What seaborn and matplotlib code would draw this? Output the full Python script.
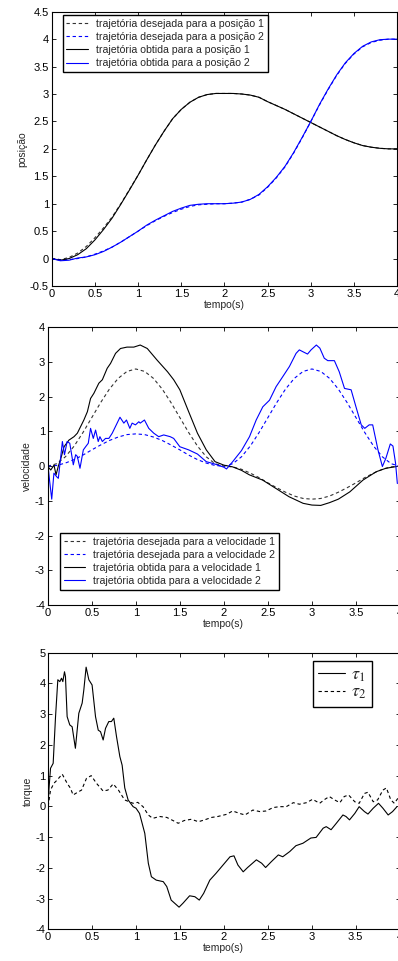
import matplotlib
matplotlib.use("Agg")
import matplotlib.pyplot as plt
import seaborn as sns
from matplotlib.ticker import FuncFormatter, MultipleLocator

# tempo para as posicoes e velocidades desejadas (passo de 0.1 s)
t_grid = [0.0, 0.1, 0.2, 0.3, 0.4, 0.5, 0.6, 0.7, 0.8, 0.9, 1.0,
          1.1, 1.2, 1.3, 1.4, 1.5, 1.6, 1.7, 1.8, 1.9, 2.0,
          2.1, 2.2, 2.3, 2.4, 2.5, 2.6, 2.7, 2.8, 2.9, 3.0,
          3.1, 3.2, 3.3, 3.4, 3.5, 3.6, 3.7, 3.8, 3.9, 4.0]

# posicoes
pos1_des = [0.0, -0.02, 0.02, 0.10, 0.22, 0.38, 0.56, 0.76, 1.00, 1.26, 1.52,
            1.80, 2.07, 2.32, 2.55, 2.72, 2.85, 2.94, 2.99, 3.01, 3.01,
            3.01, 3.00, 2.98, 2.94, 2.86, 2.79, 2.72, 2.64, 2.56, 2.48,
            2.40, 2.32, 2.24, 2.17, 2.11, 2.06, 2.03, 2.01, 2.00, 2.00]
pos1_obt = [0.0, -0.03, 0.00, 0.07, 0.18, 0.34, 0.53, 0.74, 0.99, 1.25, 1.52,
            1.80, 2.07, 2.32, 2.55, 2.72, 2.85, 2.94, 2.99, 3.01, 3.01,
            3.01, 3.00, 2.98, 2.94, 2.86, 2.79, 2.72, 2.64, 2.56, 2.48,
            2.40, 2.32, 2.24, 2.17, 2.11, 2.06, 2.03, 2.01, 2.00, 2.00]
pos2_des = [0.0, -0.02, -0.02, 0.00, 0.03, 0.08, 0.14, 0.21, 0.30, 0.40, 0.50,
            0.60, 0.69, 0.77, 0.84, 0.90, 0.95, 0.98, 0.99, 1.00, 1.00,
            1.01, 1.03, 1.08, 1.16, 1.30, 1.47, 1.67, 1.92, 2.20, 2.50,
            2.80, 3.08, 3.34, 3.56, 3.73, 3.86, 3.94, 3.98, 4.00, 4.00]
pos2_obt = [0.0, -0.04, -0.03, 0.01, 0.03, 0.07, 0.13, 0.21, 0.30, 0.40, 0.50,
            0.61, 0.70, 0.78, 0.86, 0.92, 0.97, 0.99, 1.00, 1.00, 1.00,
            1.01, 1.03, 1.08, 1.17, 1.31, 1.48, 1.68, 1.93, 2.21, 2.50,
            2.81, 3.09, 3.35, 3.57, 3.74, 3.87, 3.95, 3.99, 4.00, 4.00]

# velocidades desejadas
vel1_des = [0.0, 0.07, 0.27, 0.58, 0.97, 1.40, 1.83, 2.22, 2.53, 2.73, 2.80,
            2.73, 2.53, 2.22, 1.83, 1.40, 0.97, 0.58, 0.27, 0.07, 0.0,
            -0.02, -0.09, -0.20, -0.33, -0.48, -0.62, -0.75, -0.86, -0.93, -0.95,
            -0.93, -0.86, -0.75, -0.62, -0.48, -0.33, -0.20, -0.09, -0.02, 0.0]
vel2_des = [0.0, 0.02, 0.09, 0.19, 0.32, 0.47, 0.61, 0.74, 0.84, 0.91, 0.93,
            0.91, 0.84, 0.74, 0.61, 0.47, 0.32, 0.19, 0.09, 0.02, 0.0,
            0.07, 0.27, 0.58, 0.97, 1.40, 1.83, 2.22, 2.53, 2.73, 2.80,
            2.73, 2.53, 2.22, 1.83, 1.40, 0.97, 0.58, 0.27, 0.07, 0.0]

# velocidades obtidas
t_vel1 = [0.0, 0.034, 0.071, 0.094, 0.12, 0.147, 0.185, 0.24, 0.298, 0.336, 0.373,
          0.41, 0.45, 0.486, 0.524, 0.58, 0.62, 0.675, 0.713, 0.77, 0.826, 0.90,
          0.977, 1.05, 1.13, 1.24, 1.36, 1.43, 1.5, 1.6, 1.7, 1.8, 1.9, 2.0,
          2.1, 2.2, 2.29, 2.44, 2.59, 2.74, 2.9, 3.0, 3.1, 3.2, 3.3, 3.43,
          3.58, 3.73, 3.84, 3.96]
vel1_obt = [-0.01, -0.11, 0.03, -0.25, 0.0, 0.21, 0.56, 0.75, 0.85, 0.95, 1.14,
            1.33, 1.57, 1.95, 2.10, 2.39, 2.49, 2.82, 2.96, 3.25, 3.39, 3.43,
            3.43, 3.49, 3.39, 3.06, 2.72, 2.49, 2.2, 1.57, 0.95, 0.47, 0.13, 0.03,
            -0.02, -0.12, -0.25, -0.40, -0.64, -0.88, -1.07, -1.12, -1.13, -1.05, -0.95, -0.74,
            -0.40, -0.16, -0.06, -0.01]
t_vel2 = [0.0, 0.02, 0.045, 0.07, 0.1, 0.12, 0.14, 0.166, 0.19, 0.22, 0.25,
          0.29, 0.317, 0.336, 0.366, 0.404, 0.43, 0.46, 0.486, 0.517, 0.543,
          0.573, 0.592, 0.62, 0.656, 0.694, 0.732, 0.78, 0.82, 0.864, 0.894,
          0.932, 0.958, 0.996, 1.034, 1.05, 1.098, 1.147, 1.204, 1.26, 1.317,
          1.39, 1.43, 1.5, 1.6, 1.7, 1.8, 1.9, 2.0, 2.03, 2.1, 2.2,
          2.291, 2.367, 2.442, 2.518, 2.593, 2.669, 2.744, 2.82, 2.857, 2.895,
          2.95, 2.99, 3.05, 3.09, 3.14, 3.18, 3.255, 3.31, 3.37, 3.445, 3.50,
          3.56, 3.60, 3.65, 3.69, 3.75, 3.80, 3.84, 3.89, 3.92, 3.95, 3.97]
vel2_obt = [0.08, -0.4, -0.95, -0.2, -0.3, -0.35, 0.1, 0.71, 0.33, 0.71, 0.66,
            0.04, 0.33, 0.28, -0.06, 0.47, 0.56, 0.66, 1.09, 0.80, 1.04,
            0.71, 0.85, 0.71, 0.80, 0.80, 0.95, 1.2, 1.41, 1.24, 1.33,
            1.09, 1.24, 1.19, 1.28, 1.24, 1.33, 1.09, 0.95, 0.85, 0.90,
            0.85, 0.80, 0.56, 0.47, 0.35, 0.13, 0.06, -0.03, -0.08, 0.13, 0.45,
            0.85, 1.33, 1.71, 1.90, 2.29, 2.58, 2.87, 3.25, 3.35, 3.30,
            3.23, 3.35, 3.49, 3.40, 3.11, 3.04, 3.04, 2.72, 2.24, 2.20, 1.71,
            1.19, 1.09, 1.19, 1.19, 0.47, -0.01, 0.23, 0.64, 0.58, 0.08, -0.5]

# torques
t_tau1 = [0.0, 0.01, 0.027, 0.057, 0.084, 0.11, 0.133, 0.152, 0.167, 0.186, 0.197,
          0.216, 0.246, 0.273, 0.31, 0.349, 0.387, 0.406, 0.432, 0.463, 0.5,
          0.539, 0.57, 0.596, 0.626, 0.653, 0.69, 0.72, 0.747, 0.778, 0.816,
          0.842, 0.872, 0.91, 0.967, 1.0, 1.04, 1.1, 1.14, 1.175, 1.23,
          1.31, 1.35, 1.40, 1.49, 1.535, 1.61, 1.67, 1.72, 1.77, 1.84,
          1.91, 1.99, 2.07, 2.115, 2.16, 2.22, 2.27, 2.37, 2.43, 2.475,
          2.54, 2.62, 2.67, 2.75, 2.82, 2.90, 2.99, 3.05, 3.13, 3.165,
          3.22, 3.28, 3.355, 3.39, 3.43, 3.49, 3.54, 3.6, 3.64, 3.70,
          3.76, 3.81, 3.87, 3.92, 3.97]
tau1 = [0.1, 0.6, 1.24, 1.40, 2.92, 4.12, 4.06, 4.17, 4.06, 4.38, 4.22,
        2.92, 2.65, 2.59, 1.89, 3.03, 3.36, 3.79, 4.53, 4.12, 3.95,
        2.92, 2.48, 2.43, 2.16, 2.54, 2.76, 2.76, 2.87, 2.27, 1.62,
        1.34, 0.6, 0.21, -0.01, -0.06, -0.23, -0.88, -1.85, -2.29, -2.40,
        -2.45, -2.61, -3.05, -3.28, -3.15, -2.91, -2.94, -3.05, -2.83, -2.40,
        -2.18, -1.91, -1.64, -1.61, -1.91, -2.13, -1.99, -1.74, -1.85, -1.99,
        -1.80, -1.58, -1.64, -1.47, -1.28, -1.20, -1.03, -1.01, -0.71, -0.66,
        -0.76, -0.55, -0.28, -0.33, -0.44, -0.23, -0.01, -0.17, -0.25, -0.06,
        0.10, -0.06, -0.28, -0.17, -0.01]
t_tau2 = [0.0, 0.027, 0.065, 0.1, 0.16, 0.216, 0.254, 0.284, 0.33, 0.38, 0.436,
          0.49, 0.55, 0.625, 0.68, 0.74, 0.80, 0.87, 0.967, 1.02, 1.08,
          1.14, 1.19, 1.27, 1.35, 1.42, 1.48, 1.55, 1.63, 1.71, 1.78,
          1.86, 1.93, 2.03, 2.10, 2.18, 2.24, 2.33, 2.41, 2.48, 2.56,
          2.63, 2.71, 2.79, 2.86, 2.94, 3.01, 3.09, 3.15, 3.20, 3.26,
          3.32, 3.37, 3.42, 3.49, 3.54, 3.60, 3.64, 3.70, 3.75, 3.81,
          3.85, 3.90, 3.94, 3.98]
tau2 = [0.0, 0.53, 0.75, 0.85, 1.05, 0.75, 0.59, 0.37, 0.45, 0.53, 0.91,
        1.0, 0.75, 0.50, 0.53, 0.73, 0.53, 0.21, 0.10, 0.13, -0.01,
        -0.28, -0.39, -0.33, -0.36, -0.46, -0.55, -0.46, -0.42, -0.50, -0.44,
        -0.36, -0.33, -0.26, -0.15, -0.23, -0.28, -0.12, -0.17, -0.15, -0.04,
        -0.01, -0.01, 0.12, 0.07, 0.12, 0.23, 0.10, 0.23, 0.32, 0.21,
        0.12, 0.32, 0.37, 0.15, 0.10, 0.42, 0.46, 0.15, 0.21, 0.53,
        0.60, 0.21, 0.10, 0.26]

sns.set_style("ticks")
plt.rcParams['font.family'] = ['Liberation Sans', 'DejaVu Sans']
plt.rcParams['axes.unicode_minus'] = False
plt.rcParams['mathtext.fontset'] = 'stix'
plt.rcParams['xtick.direction'] = 'in'
plt.rcParams['ytick.direction'] = 'in'
plt.rcParams['xtick.top'] = True
plt.rcParams['ytick.right'] = True

FS = 8
LEG_FS = 7.6
DOT = (0, (3, 2.5))
BLUE = '#0000ff'
LW = 0.8

fig = plt.figure(figsize=(3.98, 9.61), dpi=100)
ax1 = fig.add_axes([0.130, 0.7024, 0.868, 0.2854])
ax2 = fig.add_axes([0.120, 0.3704, 0.885, 0.2890])
ax3 = fig.add_axes([0.121, 0.0330, 0.883, 0.2878])

fmt = FuncFormatter(lambda v, p: f'{v:g}')


def style_axis(ax, ylim, ystep, ylabel):
    ax.set_xlim(0, 4)
    ax.set_ylim(*ylim)
    ax.xaxis.set_major_locator(MultipleLocator(0.5))
    ax.yaxis.set_major_locator(MultipleLocator(ystep))
    ax.xaxis.set_major_formatter(fmt)
    ax.yaxis.set_major_formatter(fmt)
    ax.tick_params(labelsize=FS, length=3, width=0.6, colors='black', pad=2)
    for s in ax.spines.values():
        s.set_linewidth(0.8)
        s.set_color('black')
    ax.set_xlabel('tempo(s)', fontsize=7.5, labelpad=1)
    ax.set_ylabel(ylabel, fontsize=7.5, labelpad=2)


# posicao
sns.lineplot(x=t_grid, y=pos1_des, ax=ax1, color='#333333', linestyle=DOT, lw=LW,
             label='trajetória desejada para a posição 1')
sns.lineplot(x=t_grid, y=pos2_des, ax=ax1, color=BLUE, linestyle=DOT, lw=LW,
             label='trajetória desejada para a posição 2')
sns.lineplot(x=t_grid, y=pos1_obt, ax=ax1, color='black', lw=LW,
             label='trajetória obtida para a posição 1')
sns.lineplot(x=t_grid, y=pos2_obt, ax=ax1, color=BLUE, lw=LW,
             label='trajetória obtida para a posição 2')
style_axis(ax1, (-0.5, 4.5), 0.5, 'posição')
ax1.legend(loc='upper left', bbox_to_anchor=(0.032, 0.988), fontsize=LEG_FS,
           frameon=True, fancybox=False, edgecolor='black', framealpha=1,
           borderpad=0.35, labelspacing=0.3, handlelength=2.0, borderaxespad=0)

# velocidade
sns.lineplot(x=t_grid, y=vel1_des, ax=ax2, color='#333333', linestyle=DOT, lw=LW,
             label='trajetória desejada para a velocidade 1')
sns.lineplot(x=t_grid, y=vel2_des, ax=ax2, color=BLUE, linestyle=DOT, lw=LW,
             label='trajetória desejada para a velocidade 2')
sns.lineplot(x=t_vel1, y=vel1_obt, ax=ax2, color='black', lw=LW,
             label='trajetória obtida para a velocidade 1')
sns.lineplot(x=t_vel2, y=vel2_obt, ax=ax2, color=BLUE, lw=LW,
             label='trajetória obtida para a velocidade 2')
style_axis(ax2, (-4, 4), 1, 'velocidade')
ax2.legend(loc='lower left', bbox_to_anchor=(0.035, 0.055), fontsize=LEG_FS,
           frameon=True, fancybox=False, edgecolor='black', framealpha=1,
           borderpad=0.35, labelspacing=0.3, handlelength=2.0, borderaxespad=0)

# torque
sns.lineplot(x=t_tau1, y=tau1, ax=ax3, color='black', lw=LW, label=r'$\tau_1$')
sns.lineplot(x=t_tau2, y=tau2, ax=ax3, color='black', linestyle=DOT, lw=LW,
             label=r'$\tau_2$')
style_axis(ax3, (-4, 5), 1, 'torque')
ax3.legend(loc='upper right', bbox_to_anchor=(0.922, 0.97), fontsize=13,
           frameon=True, fancybox=False, edgecolor='black', framealpha=1,
           borderpad=0.3, labelspacing=0.0, handlelength=1.5, borderaxespad=0,
           handletextpad=0.35)

fig.savefig('out.png', dpi=100, facecolor='white')
